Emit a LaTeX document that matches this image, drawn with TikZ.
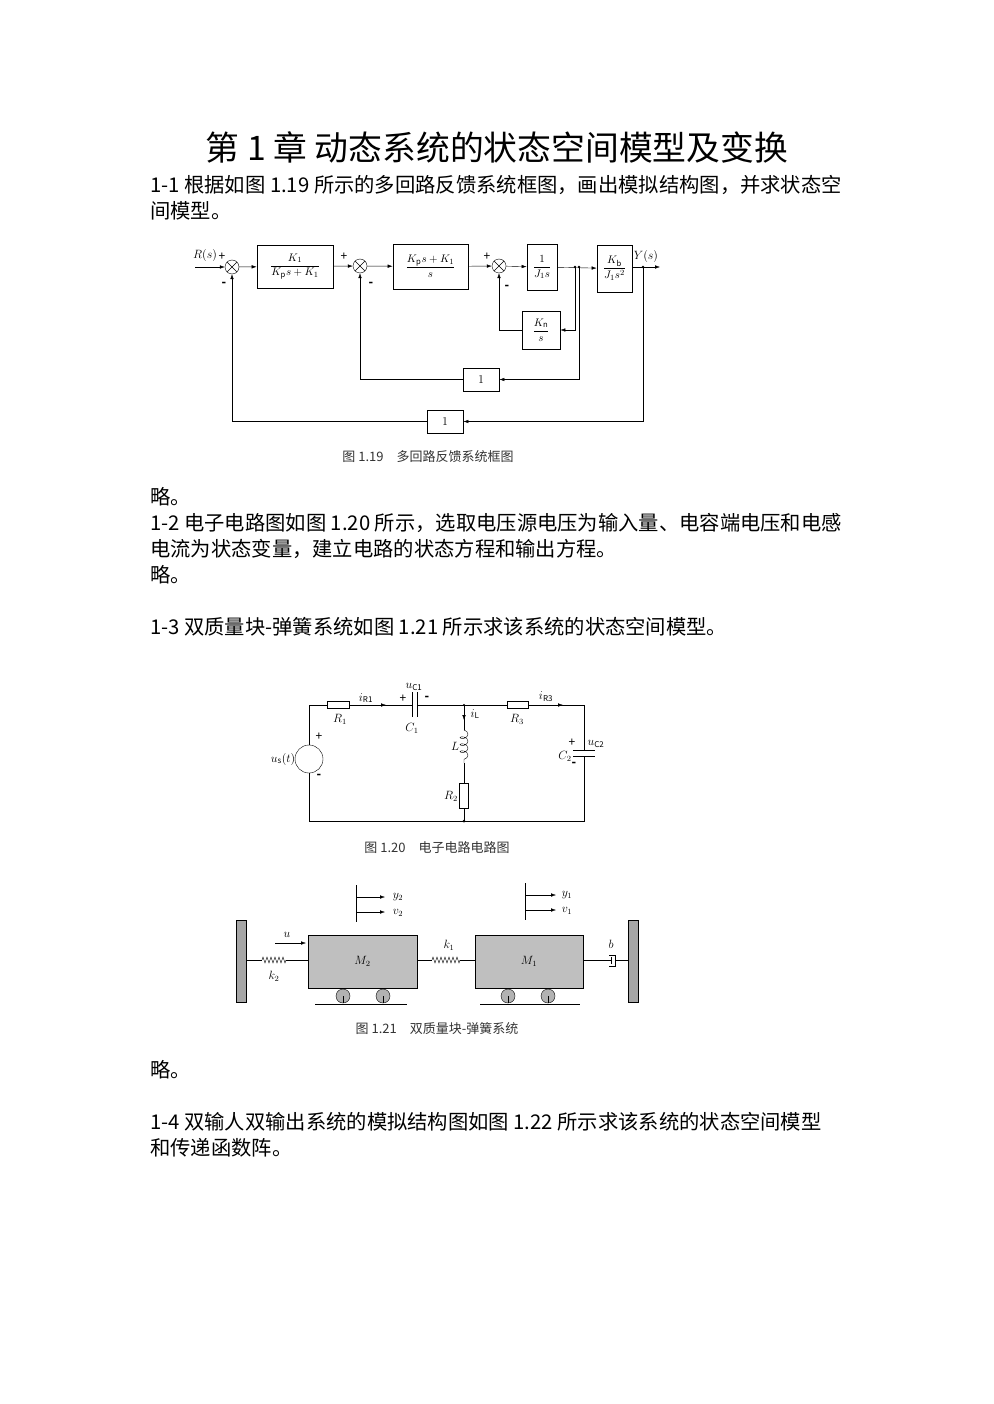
\documentclass[tikz,border=0pt]{standalone}
\usepackage{fontspec}
\setmainfont{Noto Sans CJK SC}
\usetikzlibrary{arrows.meta,decorations.pathmorphing}
\newcommand{\df}[2]{{\displaystyle\frac{#1}{#2}}}
\begin{document}
\begin{tikzpicture}[x=1pt,y=-1pt,
  body/.style={anchor=west,inner sep=0pt,font=\fontsize{20.3}{20}\selectfont},
  figcap/.style={inner sep=0pt,font=\fontsize{13}{13}\selectfont,text=black!80},
  lab/.style={inner sep=0pt,font=\fontsize{12}{12}\selectfont},
  blk/.style={draw,thick,inner sep=0pt},
  sumj/.style={draw,circle,minimum size=14pt,inner sep=0pt},
  arr/.style={-{Latex[length=5pt,width=3.5pt]}},
  wall/.style={draw,fill=black!35},
  mass/.style={draw,thick,fill=black!25},
  spr/.style={decorate,decoration={zigzag,segment length=4pt,amplitude=3pt}}]
\useasboundingbox (0,0) rectangle (993,1404);
\fill[white] (0,0) rectangle (993,1404);
% texts
\node[inner sep=0pt,font=\fontsize{33.8}{34}\selectfont] (title) at (497,147) {第 1 章 动态系统的状态空间模型及变换};
\node[body] (t1) at (150,185) {1-1 根据如图 1.19 所示的多回路反馈系统框图，画出模拟结构图，并求状态空};
\node[body] (t2) at (150,211) {间模型。};
\node[figcap] (c1) at (428,457) {图 1.19\quad 多回路反馈系统框图};
\node[body] (t3) at (150,497) {略。};
\node[body] (t4) at (150,523) {1-2 电子电路图如图 1.20 所示，选取电压源电压为输入量、电容端电压和电感};
\node[body] (t5) at (150,549) {电流为状态变量，建立电路的状态方程和输出方程。};
\node[body] (t6) at (150,575) {略。};
\node[body] (t7) at (150,627) {1-3 双质量块-弹簧系统如图 1.21 所示求该系统的状态空间模型。};
\node[figcap] (c2) at (437,848) {图 1.20\quad 电子电路电路图};
\node[figcap] (c3) at (437,1029) {图 1.21\quad 双质量块-弹簧系统};
\node[body] (t8) at (150,1070) {略。};
\node[body] (t9) at (150,1122) {1-4 双输人双输出系统的模拟结构图如图 1.22 所示求该系统的状态空间模型};
\node[body] (t10) at (150,1148) {和传递函数阵。};
% ===== block diagram =====
\begin{scope}[font=\fontsize{11}{11}\selectfont]
\coordinate (in) at (195,267);
\node[sumj] (s1) at (232,267) {};
\draw (s1.north west)--(s1.south east) (s1.north east)--(s1.south west);
\node[blk,minimum width=76pt,minimum height=43pt] (b1) at (295,266.5) {$\df{K_1}{K_{\rm p}s+K_1}$};
\node[sumj] (s2) at (360,266) {};
\draw (s2.north west)--(s2.south east) (s2.north east)--(s2.south west);
\node[blk,minimum width=75pt,minimum height=45pt] (b2) at (430.5,266.5) {$\df{K_{\rm p}s+K_1}{s}$};
\node[sumj] (s3) at (499,266) {};
\draw (s3.north west)--(s3.south east) (s3.north east)--(s3.south west);
\node[blk,minimum width=30pt,minimum height=46pt] (b3) at (542,267) {$\df{1}{J_1s}$};
\node[blk,minimum width=35pt,minimum height=47pt] (b4) at (614.5,268.5) {$\df{K_{\rm b}}{J_1s^2}$};
\node[blk,minimum width=38pt,minimum height=38pt] (b5) at (541,330) {$\df{K_{\rm n}}{s}$};
\node[blk,minimum width=36pt,minimum height=23pt,font=\fontsize{12}{12}\selectfont] (b6) at (481,379.5) {$1$};
\node[blk,minimum width=36pt,minimum height=23pt,font=\fontsize{12}{12}\selectfont] (b7) at (445,421.5) {$1$};
\coordinate (p1) at (575,267);
\coordinate (p2) at (579,267);
\coordinate (yo) at (643,267);
\coordinate (out) at (660,267);
\draw[arr] (in)--(s1);
\draw[arr] (s1)--(b1);
\draw[arr] (b1)--(s2);
\draw[arr] (s2)--(b2);
\draw[arr] (b2)--(s3);
\draw[arr] (s3)--(b3);
\draw[arr] (b3)--(b4);
\draw[arr] (b4.east|-yo)--(out);
\fill (p1) circle (1.3pt) (p2) circle (1.3pt) (yo) circle (1.3pt);
\draw[arr] (p1)|-(b5.east);
\draw[arr] (b5.west)-|(s3.south);
\draw[arr] (p2)|-(b6.east);
\draw[arr] (b6.west)-|(s2.south);
\draw[arr] (yo)|-(b7.east);
\draw[arr] (b7.west)-|(s1.south);
\node[lab] (rs) at (205,256) {$R(s)$};
\node[lab] (pl1) at (222,257) {+};
\node[lab] (mi1) at (224,284) {\textbf{-}};
\node[lab] (pl2) at (344,257) {+};
\node[lab] (mi2) at (371,284) {\textbf{-}};
\node[lab] (pl3) at (487,257) {+};
\node[lab] (mi3) at (507,287) {\textbf{-}};
\node[lab] (ys) at (646,257) {$Y(s)$};
\end{scope}
% ===== circuit =====
\begin{scope}[font=\fontsize{11}{11}\selectfont]
\coordinate (tl) at (309,705); \coordinate (tr) at (584,705);
\coordinate (bl) at (309,821); \coordinate (br) at (584,821);
\coordinate (jt) at (464,705); \coordinate (jb) at (464,821);
\node[draw,minimum width=22pt,minimum height=7pt,inner sep=0pt,fill=white] (r1) at (338,705) {};
\node[draw,minimum width=21pt,minimum height=7pt,inner sep=0pt,fill=white] (r3) at (517.5,705) {};
\node[draw,minimum width=9pt,minimum height=25pt,inner sep=0pt] (r2) at (464,795.5) {};
\node[draw,circle,minimum size=28pt,inner sep=0pt] (us) at (309,759) {};
\draw (tl)--(r1.west) (r1.east)--(412,705) (417,705)--(r3.west) (r3.east)--(tr)--(584,750);
\draw (584,756)--(br)--(bl)--(us.south) (us.north)--(tl);
\draw[line width=1pt] (412,692)--(412,717) (417,692)--(417,717);
\draw[line width=1pt] (573,750)--(595,750) (573,756)--(595,756);
\draw (jt)--(464,730);
\draw[decorate,decoration={coil,aspect=0.6,segment length=7pt,amplitude=4pt}] (464,730)--(464,763);
\draw (464,763)--(r2.north) (r2.south)--(jb);
\fill (jt) circle (1.2pt) (jb) circle (1.5pt);
\draw[arr] (360,705)--(386,705);
\draw[arr] (537,705)--(563,705);
\draw[arr] (464,708)--(464,720);
\node[lab] (lr1) at (340,719) {$R_1$};
\node[lab] (lir1) at (366,698) {$i_{\rm R1}$};
\node[lab] (luc1) at (414,687) {$u_{\rm C1}$};
\node[lab] (lc1) at (412,728) {$C_1$};
\node[lab] (lp1) at (403,699) {+};
\node[lab] (lm1) at (427,698) {\textbf{-}};
\node[lab] (lil) at (475,714) {$i_{\rm L}$};
\node[lab] (ll) at (455,746) {$L$};
\node[lab] (lr2) at (451,796) {$R_2$};
\node[lab] (lr3) at (517,719) {$R_3$};
\node[lab] (lir3) at (546,697) {$i_{\rm R3}$};
\node[lab] (lpc2) at (572,743) {+};
\node[lab] (lmc2) at (574,764) {\textbf{-}};
\node[lab] (luc2) at (596,744) {$u_{\rm C2}$};
\node[lab] (lc2) at (565,756) {$C_2$};
\node[lab] (lus) at (283,759) {$u_{\rm s}(t)$};
\node[lab] (lpu) at (319,737) {+};
\node[lab] (lmu) at (319,776) {\textbf{-}};
\end{scope}
% ===== masses =====
\begin{scope}[font=\fontsize{11}{11}\selectfont]
\node[wall,minimum width=10pt,minimum height=82pt,inner sep=0pt] (wl) at (241,961) {};
\node[wall,minimum width=10pt,minimum height=82pt,inner sep=0pt] (wr) at (633,961) {};
\node[mass,minimum width=109pt,minimum height=53pt,inner sep=0pt,font=\fontsize{12}{12}\selectfont] (m2) at (362.5,961.5) {$M_2$};
\node[mass,minimum width=108pt,minimum height=53pt,inner sep=0pt,font=\fontsize{12}{12}\selectfont] (m1) at (529,961.5) {$M_1$};
\foreach \x/\n in {343/a,383/b,508/c,548/d}{
  \node[draw,circle,fill=black!30,minimum size=14pt,inner sep=0pt] (wh\n) at (\x,996) {};
  \draw (\x,996)--(\x,1003);}
\draw (315,1004)--(407,1004) (480,1004)--(580,1004);
\draw (wl.east|-0,960)--(262,960);
\draw[spr] (262,960)--(286,960);
\draw (286,960)--(m2.west|-0,960);
\draw (m2.east|-0,960)--(432,960);
\draw[spr] (432,960)--(460,960);
\draw (460,960)--(m1.west|-0,960);
\draw (m1.east|-0,960)--(612,960);
\draw (609,955)--(615,955)--(615,966)--(609,966);
\draw (611,957)--(611,964);
\draw (615,960)--(wr.west|-0,960);
\draw[arr] (275,943)--(306,943);
\draw (356,885)--(356,922) (525,883)--(525,920);
\draw[arr] (356,897)--(385,897);
\draw[arr] (356,912)--(385,912);
\draw[arr] (525,895)--(556,895);
\draw[arr] (525,910)--(556,910);
\node[lab] (lu) at (287,935) {$u$};
\node[lab] (lk2) at (274,976) {$k_2$};
\node[lab] (lk1) at (449,945) {$k_1$};
\node[lab] (lb) at (611,944) {$b$};
\node[lab] (ly2) at (398,897) {$y_2$};
\node[lab] (lv2) at (398,913) {$v_2$};
\node[lab] (ly1) at (567,895) {$y_1$};
\node[lab] (lv1) at (567,911) {$v_1$};
\end{scope}
\end{tikzpicture}
\end{document}
